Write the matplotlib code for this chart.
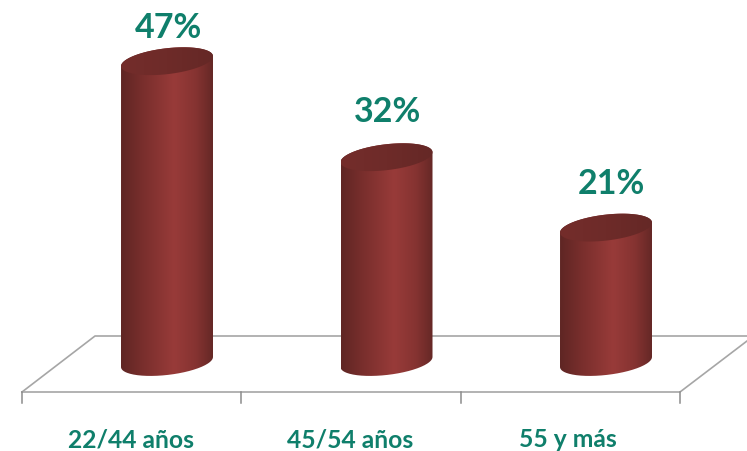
import numpy as np
import matplotlib.pyplot as plt
from matplotlib.colors import LinearSegmentedColormap
from matplotlib.patches import PathPatch
from matplotlib.path import Path

categories = ['22/44 años', '45/54 años', '55 y más']
values = [47, 32, 21]
value_labels = ['47%', '32%', '21%']

W, H = 747, 452
x0_px, x_step = 167.0, 219.5   # pixel centre of first bar, spacing
y0_px, y_step = 363.0, 6.4     # pixel of value 0, pixels per percent
half_w = 46.0 / x_step
half_h = 13.0 / y_step
tilt = 5.0 / y_step
green = '#0f7f6b'
grey = '#a6a6a6'

body_cmap = LinearSegmentedColormap.from_list('body', [
    (0.0, '#5f2624'), (0.2, '#752d2b'), (0.58, '#983b39'),
    (0.82, '#853331'), (1.0, '#652826')])
top_cmap = LinearSegmentedColormap.from_list('top', ['#742d2b', '#6e2b29', '#652826'])


def xd(px):
    return (px - x0_px) / x_step


def yd(py):
    return (y0_px - py) / y_step


def rim(cx, cy, t):
    return cx + half_w * np.cos(t), cy + half_h * np.sin(t) + tilt * np.cos(t)


fig = plt.figure(figsize=(W / 100, H / 100), dpi=100, facecolor='white')
ax = fig.add_axes([0, 0, 1, 1])
ax.axis('off')

# floor of the 3d box
ax.plot([xd(22), xd(95), xd(747)], [yd(393), yd(337), yd(337)], color=grey, lw=1.2, zorder=1)
ax.plot([xd(22), xd(680), xd(747)], [yd(393), yd(393), yd(342)], color=grey, lw=1.2, zorder=1)
for i in range(len(categories) + 1):
    px = 22 + 219.3 * i
    ax.plot([xd(px), xd(px)], [yd(393), yd(404)], color='#8c8c8c', lw=1.1, zorder=1)

grad = np.linspace(0, 1, 256).reshape(1, -1)
for i, v in enumerate(values):
    # side of the cylinder
    t_low = np.linspace(0, -np.pi, 80)
    t_up = np.linspace(np.pi, 0, 80)
    xb, yb = rim(i, 0, t_low)
    xt, yt = rim(i, v, t_up)
    side = np.vstack([np.r_[xb, xt], np.r_[yb, yt]]).T
    im = ax.imshow(grad, cmap=body_cmap, aspect='auto', zorder=2,
                   extent=[i - half_w, i + half_w, -3, v + 3])
    clip = PathPatch(Path(side), transform=ax.transData, fc='none', ec='none')
    ax.add_patch(clip)
    im.set_clip_path(clip)
    # top of the cylinder
    t = np.linspace(0, 2 * np.pi, 160)
    xe, ye = rim(i, v, t)
    im2 = ax.imshow(grad, cmap=top_cmap, aspect='auto', zorder=3,
                    extent=[i - half_w, i + half_w, v - 3, v + 3])
    clip2 = PathPatch(Path(np.c_[xe, ye]), transform=ax.transData, fc='none', ec='none')
    ax.add_patch(clip2)
    im2.set_clip_path(clip2)

label_shift = [(1, 34), (1, 46), (5, 45)]
for i, (v, lab) in enumerate(zip(values, value_labels)):
    ax.annotate(lab, (i, v), xytext=label_shift[i], textcoords='offset pixels',
                ha='center', va='center', color=green, fontsize=24.5,
                fontweight='bold', family='Lato')

label_px = [131, 350, 568]
for px, cat in zip(label_px, categories):
    ax.text(xd(px), yd(440), cat, ha='center', va='center', color=green,
            fontsize=17.7, fontweight='bold', family='Lato')

ax.set_xlim(xd(0), xd(W))
ax.set_ylim(yd(H), yd(0))
fig.savefig('out.png', dpi=100, facecolor='white')
